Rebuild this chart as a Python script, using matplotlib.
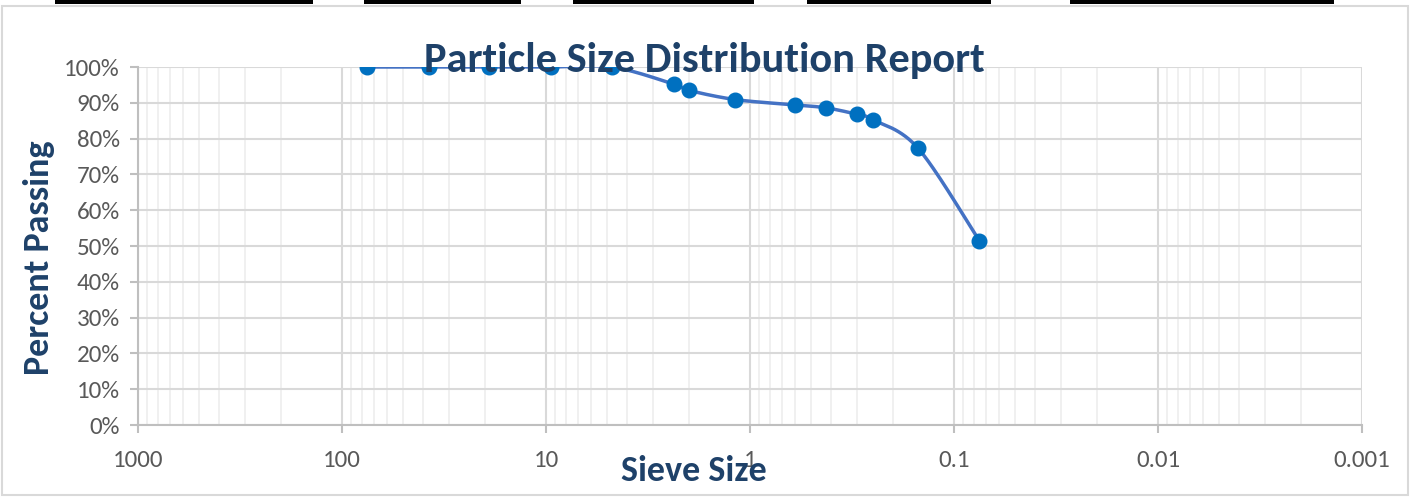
import numpy as np
import matplotlib
matplotlib.use("Agg")
import matplotlib.pyplot as plt
from matplotlib.patches import Rectangle
from matplotlib.ticker import FixedLocator, FixedFormatter, PercentFormatter, LogLocator, NullFormatter

# Sieve data (mm) and percent passing
sieve_mm = [75, 37.5, 19, 9.5, 4.75, 2.36, 2.0, 1.18, 0.6, 0.425, 0.3, 0.25, 0.15, 0.075]
passing = [1.00, 1.00, 1.00, 1.00, 1.00, 0.952, 0.935, 0.909, 0.894, 0.886, 0.868, 0.853, 0.773, 0.514]
x_ticks = [1000, 100, 10, 1, 0.1, 0.01, 0.001]
x_tick_labels = ["1000", "100", "10", "1", "0.1", "0.01", "0.001"]

plt.rcParams['font.family'] = ['Carlito', 'DejaVu Sans']
navy = "#1E4169"

W, H = 1428, 498
fig = plt.figure(figsize=(W / 100, H / 100), dpi=100)

# chart frame + black strips cropped at the top
fig.add_artist(Rectangle((2 / W, 1 - 495 / H), 1406 / W, 489 / H, transform=fig.transFigure,
                         fill=False, edgecolor="#D9D9D9", linewidth=1.5))
for x0, x1 in [(55, 313), (364, 521), (573, 754), (807, 991), (1070, 1334)]:
    fig.add_artist(Rectangle((x0 / W, 1 - 4 / H), (x1 - x0) / W, 4 / H, transform=fig.transFigure,
                             facecolor="black", edgecolor="none"))

ax = fig.add_axes([138 / W, 1 - 425 / H, 1224 / W, 358 / H])
ax.set_xscale("log")
ax.set_xlim(1000, 0.001)
ax.set_ylim(0, 1)

# smoothed line (Catmull-Rom through the points in log-x space, like Excel's smoothing)
lx = np.log10(sieve_mm)
py = np.array(passing)
P = np.column_stack([lx, py])
P = np.vstack([P[0], P, P[-1]])
curve = []
t = np.linspace(0, 1, 30)
for i in range(1, len(P) - 2):
    p0, p1, p2, p3 = P[i - 1], P[i], P[i + 1], P[i + 2]
    seg = 0.5 * ((2 * p1)[None, :] + (-p0 + p2)[None, :] * t[:, None]
                 + (2 * p0 - 5 * p1 + 4 * p2 - p3)[None, :] * t[:, None] ** 2
                 + (-p0 + 3 * p1 - 3 * p2 + p3)[None, :] * t[:, None] ** 3)
    curve.append(seg)
curve = np.vstack(curve)
ax.plot(10 ** curve[:, 0], curve[:, 1], color="#4472C4", linewidth=2.5, zorder=3)
ax.plot(sieve_mm, passing, linestyle="none", marker="o", markersize=10.5,
        color="#0070C0", zorder=4)

# grid
ax.yaxis.set_major_locator(FixedLocator(np.arange(0, 1.01, 0.1)))
ax.yaxis.set_major_formatter(PercentFormatter(1.0, decimals=0))
ax.xaxis.set_major_locator(FixedLocator(x_ticks))
ax.xaxis.set_major_formatter(FixedFormatter(x_tick_labels))
ax.xaxis.set_minor_locator(LogLocator(base=10, subs=np.arange(2, 10), numticks=20))
ax.xaxis.set_minor_formatter(NullFormatter())
ax.grid(True, which="major", color="#D9D9D9", linewidth=1.5)
ax.grid(True, which="minor", axis="x", color="#EDEDED", linewidth=1.2)
ax.set_axisbelow(True)

for s in ["top", "right"]:
    ax.spines[s].set_visible(False)
for s in ["left", "bottom"]:
    ax.spines[s].set_color("#BFBFBF")
    ax.spines[s].set_linewidth(1.5)

ax.tick_params(axis="both", which="major", length=6, width=1.5, color="#BFBFBF",
               labelcolor="#595959", labelsize=18)
ax.tick_params(axis="x", which="major", pad=12)
ax.tick_params(axis="y", which="major", pad=7)
ax.tick_params(axis="x", which="minor", length=0)

fig.text(704 / W, 1 - 72 / H, "Particle Size Distribution Report", ha="center", va="baseline",
         fontsize=30.5, fontweight="bold", color=navy)
fig.text(39 / W, 1 - 258 / H, "Percent Passing", ha="center", va="center", rotation=90,
         fontsize=26, fontweight="bold", color=navy)
fig.text(694 / W, 1 - 481 / H, "Sieve Size", ha="center", va="baseline",
         fontsize=26, fontweight="bold", color=navy)

fig.savefig("out.png", dpi=100)
